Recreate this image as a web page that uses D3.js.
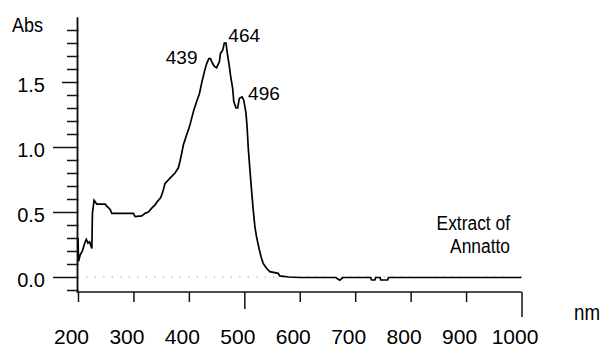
<!DOCTYPE html>
<html>
<head>
<meta charset="utf-8">
<script src="https://cdn.jsdelivr.net/npm/d3@7"></script>
<style>
  body { margin: 0; background: #fff; }
  svg { display: block; }
  text { font-family: "Liberation Sans", Arial, sans-serif; fill: #000; }
</style>
</head>
<body>
<div id="chart"></div>
<script>
// spectrum (nm, Abs)
var wavelengths = [200, 201, 204, 208, 212, 215, 218, 221, 225, 226, 229, 234, 249, 252, 258, 261,
  300, 303, 315, 321, 327, 333, 339, 343, 349, 353, 357, 366, 375, 381, 384, 387, 390, 395,
  401, 405, 409, 414, 419, 423, 428, 432, 436, 439, 442, 446, 450, 455, 457, 461, 464, 467,
  469, 473, 475, 479, 481, 485, 488, 491, 496, 499, 503, 505, 507, 510, 513, 516, 519, 522,
  527, 531, 534, 540, 546, 561, 564, 580, 600, 665, 672, 678, 728, 729.5, 735.5, 737, 745,
  746, 758.5, 760, 1000];
var absorbance = [0.30, 0.12, 0.17, 0.20, 0.26, 0.29, 0.26, 0.27, 0.22, 0.49, 0.59, 0.56, 0.56, 0.545, 0.52, 0.49,
  0.49, 0.465, 0.47, 0.49, 0.50, 0.53, 0.555, 0.58, 0.61, 0.655, 0.72, 0.76, 0.80, 0.84, 0.89, 0.95, 1.015, 1.08,
  1.155, 1.22, 1.285, 1.35, 1.41, 1.49, 1.58, 1.64, 1.68, 1.68, 1.65, 1.62, 1.61, 1.655, 1.72, 1.745, 1.80, 1.80,
  1.73, 1.62, 1.555, 1.45, 1.35, 1.30, 1.30, 1.375, 1.385, 1.36, 1.26, 1.155, 1.0, 0.83, 0.67, 0.52, 0.39, 0.31,
  0.21, 0.145, 0.105, 0.067, 0.041, 0.028, 0.008, 0.0, -0.004, -0.004, -0.025, -0.004, -0.004, -0.023, -0.023, -0.004, -0.004,
  -0.023, -0.023, -0.004, -0.004];

var peakLabels = [439, 464, 496];
var peakValues = [1.68, 1.80, 1.385];

var xTicks = [200, 300, 400, 500, 600, 700, 800, 900, 1000];
var yMajor = [0.0, 0.5, 1.0, 1.5];
var yMinor = [-0.1, 0.1, 0.2, 0.3, 0.4, 0.6, 0.7, 0.8, 0.9, 1.1, 1.2, 1.3, 1.4, 1.6, 1.7, 1.8, 1.9];

var width = 603,
    height = 347;

var x = d3.scaleLinear().domain([200, 1000]).range([78, 521.5]),
    y = d3.scaleLinear().domain([-0.12, 2.0]).range([292.6, 17]);

var svg = d3.select("#chart").append("svg")
    .attr("width", width)
    .attr("height", height);

// y axis, minor ticks first (they cross the axis line a little)
var yMinorAxis = svg.append("g")
    .attr("transform", "translate(77,0)")
    .call(d3.axisLeft(y).tickValues(yMinor).tickSize(10).tickSizeOuter(0).tickFormat(""));
yMinorAxis.selectAll(".tick line").attr("x1", -10).attr("x2", 1.5);

var yAxis = svg.append("g")
    .attr("transform", "translate(77,0)")
    .call(d3.axisLeft(y).tickValues(yMajor).tickSize(24).tickSizeOuter(0).tickFormat(d3.format(".1f")));
yAxis.selectAll(".tick line")
    .attr("x1", function(d) { return d === 1.5 ? -15 : -24; })
    .attr("x2", 1.5);
yAxis.selectAll(".tick text")
    .attr("x", -32)
    .attr("dy", "0.45em")
    .style("font-size", "20px");

// x axis
var xAxis = svg.append("g")
    .attr("transform", "translate(0,292)")
    .call(d3.axisBottom(x).tickValues(xTicks).tickSize(10).tickSizeOuter(0).tickFormat(d3.format("d")));
xAxis.select(".domain").attr("d", "M77,0H" + x(1000));
xAxis.selectAll(".tick line")
    .attr("y2", function(d) { return d === 1000 ? 25 : (d === 500 ? 17 : 10); });
xAxis.selectAll(".tick text")
    .attr("y", 52)
    .attr("dy", 0)
    .attr("dx", -7)
    .style("font-size", "21px");

svg.selectAll(".domain, .tick line")
    .attr("stroke", "#111")
    .attr("stroke-width", 1.5);

// zero line
svg.append("line")
    .attr("x1", x(215))
    .attr("x2", x(1000))
    .attr("y1", y(0))
    .attr("y2", y(0))
    .attr("stroke", "#999")
    .attr("stroke-width", 1.2)
    .attr("stroke-dasharray", "1.2,7.3");

// spectrum
var spectrum = wavelengths.map(function(w, i) { return { nm: w, abs: absorbance[i] }; });

var line = d3.line()
    .x(function(d) { return x(d.nm); })
    .y(function(d) { return y(d.abs); });

svg.append("path")
    .datum(spectrum)
    .attr("d", line)
    .attr("fill", "none")
    .attr("stroke", "#000")
    .attr("stroke-width", 1.7)
    .attr("stroke-linejoin", "miter");

// peak labels
var peakOffsets = [[-13, 5, "end"], [4, -1, "start"], [6, 3, "start"]];
svg.selectAll(".peak")
    .data(peakLabels)
    .enter().append("text")
    .attr("class", "peak")
    .attr("x", function(d, i) { return x(d) + peakOffsets[i][0]; })
    .attr("y", function(d, i) { return y(peakValues[i]) + peakOffsets[i][1]; })
    .attr("text-anchor", function(d, i) { return peakOffsets[i][2]; })
    .style("font-size", "19px")
    .text(function(d) { return d; });

// titles
svg.append("text")
    .attr("transform", "translate(12,32) scale(0.9,1)")
    .style("font-size", "20px")
    .text("Abs");

svg.append("text")
    .attr("transform", "translate(600,320) scale(0.85,1)")
    .attr("text-anchor", "end")
    .style("font-size", "22px")
    .text("nm");

var note = svg.append("g")
    .attr("transform", "translate(510,0) scale(0.87,1)");
note.append("text")
    .attr("y", 230)
    .attr("text-anchor", "end")
    .style("font-size", "20px")
    .text("Extract of");
note.append("text")
    .attr("y", 253)
    .attr("text-anchor", "end")
    .style("font-size", "20px")
    .text("Annatto");
</script>
</body>
</html>
